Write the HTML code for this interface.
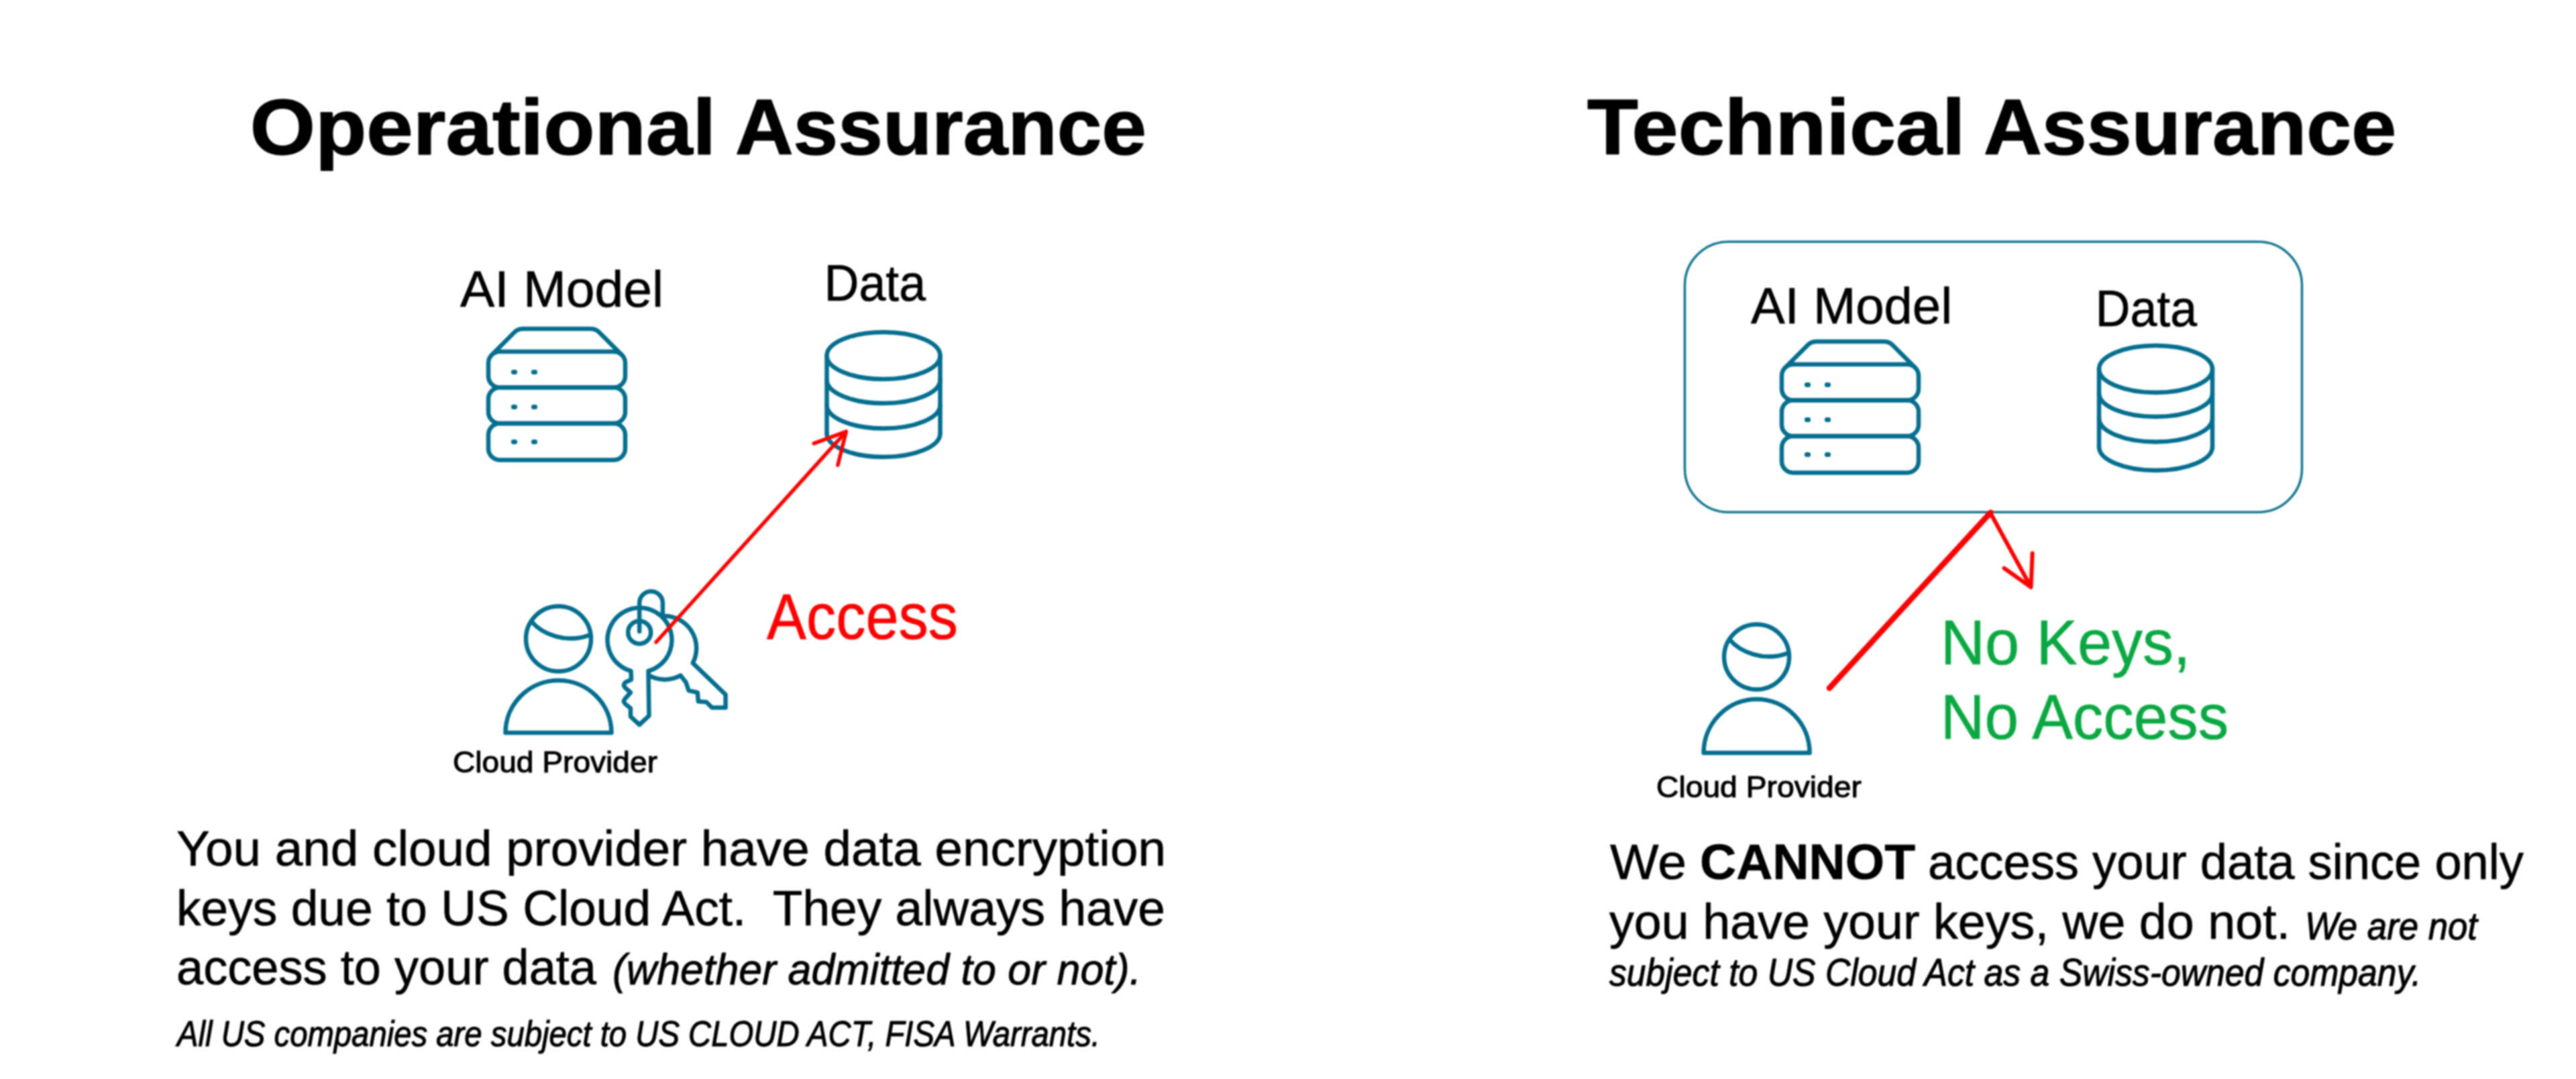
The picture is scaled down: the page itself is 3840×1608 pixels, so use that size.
<!DOCTYPE html>
<html>
<head>
<meta charset="utf-8">
<style>
html,body{margin:0;padding:0;background:#fff;}
body{width:3840px;height:1608px;overflow:hidden;}
svg{display:block;filter:blur(0.9px);}
text{font-family:"Liberation Sans",sans-serif;white-space:pre;}
.ic{fill:none;stroke:#046e8f;stroke-width:6.5;stroke-linejoin:round;stroke-linecap:round;}
</style>
</head>
<body>
<svg width="3840" height="1608" viewBox="0 0 3840 1608">
<defs>
  <g id="server">
    <path class="ic" d="M9 43 L43 9 Q48 4 56 4 L156 4 Q164 4 169 9 L203 43"/>
    <rect class="ic" x="4" y="38" width="204" height="53.5" rx="17"/>
    <rect class="ic" x="4" y="91.5" width="204" height="53.5" rx="17"/>
    <rect class="ic" x="4" y="145" width="204" height="54.5" rx="17"/>
    <g fill="#046e8f">
      <rect x="38" y="65" width="9" height="7" rx="3"/><rect x="68" y="65" width="9" height="7" rx="3"/>
      <rect x="38" y="117" width="9" height="7" rx="3"/><rect x="68" y="117" width="9" height="7" rx="3"/>
      <rect x="38" y="169" width="9" height="7" rx="3"/><rect x="68" y="169" width="9" height="7" rx="3"/>
    </g>
  </g>
  <g id="db">
    <ellipse class="ic" cx="88" cy="37" rx="84.5" ry="35"/>
    <path class="ic" d="M3.5 37 L3.5 153 M172.5 37 L172.5 153"/>
    <path class="ic" d="M3.5 73 A84.5 35 0 0 0 172.5 73"/>
    <path class="ic" d="M3.5 110.5 A84.5 35 0 0 0 172.5 110.5"/>
    <path class="ic" d="M3.5 153 A84.5 35 0 0 0 172.5 153"/>
  </g>
  <g id="head">
    <circle class="ic" cx="0" cy="0" r="48.5"/>
    <path class="ic" d="M-40 -25.5 C-25 -8 10 8 46 -5.5"/>
  </g>
</defs>


<!-- LEFT DIAGRAM -->
<use href="#server" x="724" y="486"/>
<use href="#db" x="1229" y="493"/>

<use href="#head" x="832.5" y="952"/>
<path class="ic" d="M753.5 1092 A79 78 0 0 1 911.5 1092 Z"/>
<!-- keys -->
<g>
  <path class="ic" d="M988 918 A48 48 0 0 1 1032.7 988.2 L1081.6 1035.1 L1081.6 1054.5 L1061.3 1054.5 L1053.1 1046.3 L1040.9 1045.3 L1039.8 1032.1 L1026.6 1029 L1022.5 1016.8 L1014.4 1006.6 A48 48 0 0 1 967.5 1006.6"/>
  <path class="ic" fill="#fff" style="fill:#fff" d="M940.5 1000 A48 48 0 1 1 966.5 1000 L967.5 1066.7 L953.2 1080 L940 1067.8 L940 1055.5 L932 1049 Q928 1045 932 1041 L940 1032 L932 1025 Q928 1021 932 1017 L941 1012.7 Z"/>
  <circle class="ic" cx="953.2" cy="942.4" r="17"/>
  <path class="ic" d="M953.2 941 L953.2 898.6 A17.35 17.35 0 0 1 987.9 898.6 L987.9 913"/>
</g>
<!-- red arrow -->
<g stroke="#ff0000" stroke-width="5.5" fill="none" stroke-linecap="round" stroke-linejoin="round">
  <path d="M978 957 L1261.4 643.2"/>
  <path d="M1213.2 660.8 L1261.4 643.2 L1248.9 693.2"/>
</g>


<!-- RIGHT DIAGRAM -->
<rect x="2511.5" y="360.3" width="920" height="403" rx="65" ry="65" fill="none" stroke="#157790" stroke-width="3.6"/>
<use href="#server" x="2652" y="505"/>
<use href="#db" x="3125.5" y="513"/>

<use href="#head" x="2618.6" y="979"/>
<path class="ic" d="M2539.6 1122 A79 80 0 0 1 2697.6 1122 Z"/>
<g stroke="#ff0000" fill="none" stroke-linecap="round" stroke-linejoin="round">
  <path d="M2727 1025.5 L2967.5 763.7" stroke-width="8.5"/>
  <path d="M2966.7 763.7 L3027.5 875 M2987.5 846.8 L3027.5 875 L3029.7 824.5" stroke-width="6"/>
</g>


<g id="texts">
<text id="t1a" x="372.72" y="230" textLength="694.43" lengthAdjust="spacingAndGlyphs" style="font-size:116px;font-weight:bold;fill:#000;stroke:#000;stroke-width:1.5px;stroke-linejoin:round">Operational</text>
<text id="t1b" x="1095.97" y="230" textLength="613.06" lengthAdjust="spacingAndGlyphs" style="font-size:116px;font-weight:bold;fill:#000;stroke:#000;stroke-width:1.5px;stroke-linejoin:round">Assurance</text>
<text id="t2a" x="2365.98" y="230" textLength="563.53" lengthAdjust="spacingAndGlyphs" style="font-size:116px;font-weight:bold;fill:#000;stroke:#000;stroke-width:1.5px;stroke-linejoin:round">Technical</text>
<text id="t2b" x="2956.96" y="230" textLength="615.08" lengthAdjust="spacingAndGlyphs" style="font-size:116px;font-weight:bold;fill:#000;stroke:#000;stroke-width:1.5px;stroke-linejoin:round">Assurance</text>
<text id="lblAL" x="685.99" y="456.5" textLength="303.09" lengthAdjust="spacingAndGlyphs" style="font-size:76px;fill:#000;stroke:#000;stroke-width:0.7px;stroke-linejoin:round">AI Model</text>
<text id="lblDL" x="1228.80" y="448.4" textLength="151.20" lengthAdjust="spacingAndGlyphs" style="font-size:76px;fill:#000;stroke:#000;stroke-width:0.7px;stroke-linejoin:round">Data</text>
<text id="lblAR" x="2609.99" y="481.6" textLength="300.07" lengthAdjust="spacingAndGlyphs" style="font-size:76px;fill:#000;stroke:#000;stroke-width:0.7px;stroke-linejoin:round">AI Model</text>
<text id="lblDR" x="3123.84" y="485.5" textLength="151.15" lengthAdjust="spacingAndGlyphs" style="font-size:76px;fill:#000;stroke:#000;stroke-width:0.7px;stroke-linejoin:round">Data</text>
<text id="access" x="1142.99" y="951.5" textLength="285.05" lengthAdjust="spacingAndGlyphs" style="font-size:97px;fill:#ff0000;stroke:#ff0000;stroke-width:0.7px;stroke-linejoin:round">Access</text>
<text id="cpL" x="674.98" y="1150.8" textLength="305.04" lengthAdjust="spacingAndGlyphs" style="font-size:45px;fill:#000;stroke:#000;stroke-width:1.1px;stroke-linejoin:round">Cloud Provider</text>
<text id="cpR" x="2468.97" y="1188.2" textLength="306.03" lengthAdjust="spacingAndGlyphs" style="font-size:45px;fill:#000;stroke:#000;stroke-width:1.1px;stroke-linejoin:round">Cloud Provider</text>
<text id="nk" x="2892.66" y="989.7" textLength="372.71" lengthAdjust="spacingAndGlyphs" style="font-size:94px;fill:#0aa843;stroke:#0aa843;stroke-width:0.7px;stroke-linejoin:round">No Keys,</text>
<text id="na" x="2892.79" y="1100.9" textLength="429.30" lengthAdjust="spacingAndGlyphs" style="font-size:94px;fill:#0aa843;stroke:#0aa843;stroke-width:0.7px;stroke-linejoin:round">No Access</text>
<text id="b1" x="262.99" y="1290" textLength="1475.02" lengthAdjust="spacingAndGlyphs" style="font-size:75px;fill:#000;stroke:#000;stroke-width:0.7px;stroke-linejoin:round">You and cloud provider have data encryption</text>
<text id="b2" x="262.97" y="1378.7" textLength="1474.04" lengthAdjust="spacingAndGlyphs" style="font-size:75px;fill:#000;stroke:#000;stroke-width:0.7px;stroke-linejoin:round" xml:space="preserve">keys due to US Cloud Act.  They always have</text>
<text id="b3a" x="262.99" y="1467" textLength="626.01" lengthAdjust="spacingAndGlyphs" style="font-size:75px;fill:#000;stroke:#000;stroke-width:0.7px;stroke-linejoin:round">access to your data</text>
<text id="b3b" x="912.97" y="1466.7" textLength="788.13" lengthAdjust="spacingAndGlyphs" style="font-size:65px;font-style:italic;fill:#000;stroke:#000;stroke-width:0.9px;stroke-linejoin:round">(whether admitted to or not).</text>
<text id="b4" x="264.01" y="1559.2" textLength="1376.01" lengthAdjust="spacingAndGlyphs" style="font-size:54px;font-style:italic;fill:#000;stroke:#000;stroke-width:1.1px;stroke-linejoin:round">All US companies are subject to US CLOUD ACT, FISA Warrants.</text>
<text id="r1a" x="2399.98" y="1310" textLength="114.11" lengthAdjust="spacingAndGlyphs" style="font-size:75px;fill:#000;stroke:#000;stroke-width:0.7px;stroke-linejoin:round">We</text>
<text id="r1b" x="2533.97" y="1310" textLength="321.04" lengthAdjust="spacingAndGlyphs" style="font-size:75px;font-weight:bold;fill:#000;stroke:#000;stroke-width:0.7px;stroke-linejoin:round">CANNOT</text>
<text id="r1c" x="2873.99" y="1310" textLength="888.02" lengthAdjust="spacingAndGlyphs" style="font-size:75px;fill:#000;stroke:#000;stroke-width:0.7px;stroke-linejoin:round">access your data since only</text>
<text id="r2a" x="2399.00" y="1399" textLength="1015.05" lengthAdjust="spacingAndGlyphs" style="font-size:75px;fill:#000;stroke:#000;stroke-width:0.7px;stroke-linejoin:round">you have your keys, we do not.</text>
<text id="r2b" x="3435.97" y="1399.5" textLength="257.04" lengthAdjust="spacingAndGlyphs" style="font-size:57px;font-style:italic;fill:#000;stroke:#000;stroke-width:1.1px;stroke-linejoin:round">We are not</text>
<text id="r3" x="2399.00" y="1468.7" textLength="1210.03" lengthAdjust="spacingAndGlyphs" style="font-size:57px;font-style:italic;fill:#000;stroke:#000;stroke-width:1.1px;stroke-linejoin:round">subject to US Cloud Act as a Swiss-owned company.</text>
</g>
</svg>
</body>
</html>
